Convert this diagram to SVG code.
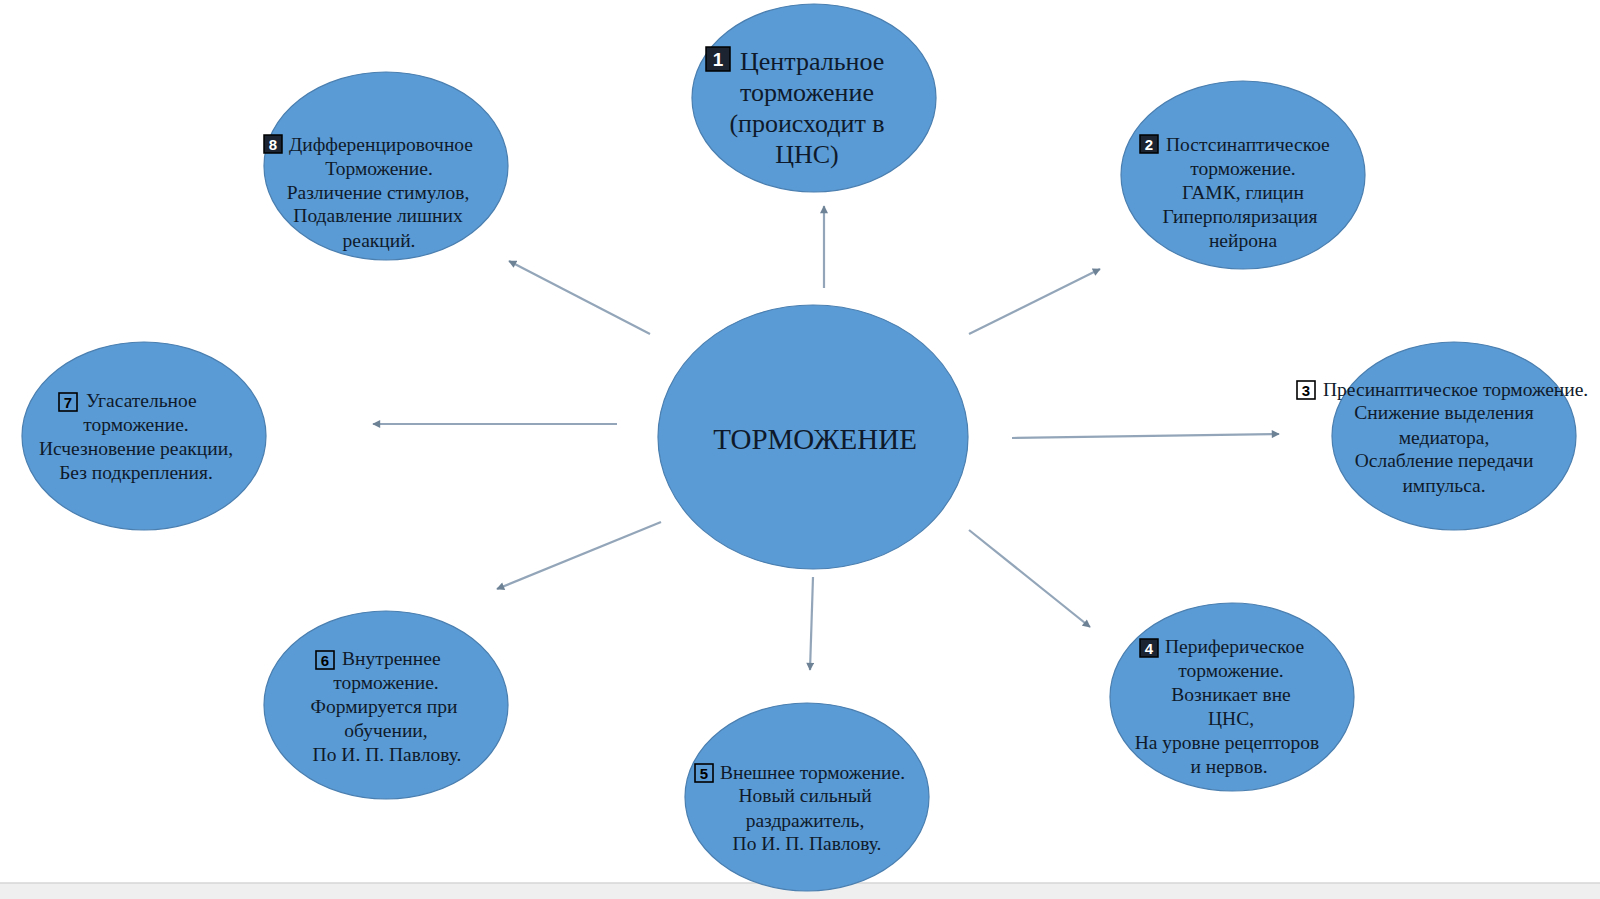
<svg xmlns="http://www.w3.org/2000/svg" width="1600" height="899" viewBox="0 0 1600 899">
<defs>
<marker id="ah" viewBox="0 0 10 10" refX="9" refY="5" markerWidth="9" markerHeight="8" orient="auto" markerUnits="userSpaceOnUse">
<path d="M0,0 L10,5 L0,10 z" fill="#6e8296"/>
</marker>
<style>
.node{fill:#5b9bd5;stroke:#4a7fb0;stroke-width:1.2}
.t{font-family:"Liberation Serif","DejaVu Serif",serif;font-size:19.5px;fill:#0e1a2b}
.m{text-anchor:middle}
.big{font-size:26px}
.center{font-size:29px}
.conn line{stroke:#93a6b9;stroke-width:2.2;marker-end:url(#ah)}
.bd{fill:#1b2430;stroke:#000;stroke-width:1.5}
.bl{fill:none;stroke:#000;stroke-width:1.6}
.bw{fill:#fff;stroke:#000;stroke-width:1.6}
.dw{font-family:"Liberation Sans","DejaVu Sans",sans-serif;font-size:15px;font-weight:bold;text-anchor:middle;fill:#fff}
.dk{font-family:"Liberation Sans","DejaVu Sans",sans-serif;font-size:15px;font-weight:bold;text-anchor:middle;fill:#000}
</style>
</defs>
<rect x="0" y="0" width="1600" height="899" fill="#ffffff"/>
<rect x="0" y="883" width="1600" height="16" fill="#efefef"/>
<line x1="0" y1="883" x2="1600" y2="883" stroke="#d6d6d6" stroke-width="1.5"/>

<g id="connectors" class="conn">
<line x1="824" y1="288" x2="824" y2="206"/>
<line x1="650" y1="334" x2="509" y2="261"/>
<line x1="969" y1="334" x2="1100" y2="269"/>
<line x1="617" y1="424" x2="373" y2="424"/>
<line x1="1012" y1="438" x2="1279" y2="434"/>
<line x1="661" y1="522" x2="497" y2="589"/>
<line x1="813" y1="577" x2="810" y2="670"/>
<line x1="969" y1="530" x2="1090" y2="627"/>
</g>

<g id="node-center">
<ellipse class="node" cx="813" cy="437" rx="155" ry="132"/>
<text class="t m center" x="815" y="449">ТОРМОЖЕНИЕ</text>
</g>

<g id="node-1">
<ellipse class="node" cx="814" cy="98" rx="122" ry="94"/>
<rect class="bd" x="706" y="47" width="24" height="24"/>
<text class="dw" x="718" y="66" style="font-size:19px">1</text>
<text class="t big" x="740" y="70">Центральное</text>
<text class="t m big" x="807" y="101">торможение</text>
<text class="t m big" x="807" y="132">(происходит в</text>
<text class="t m big" x="807" y="163">ЦНС)</text>
</g>

<g id="node-2">
<ellipse class="node" cx="1243" cy="175" rx="122" ry="94"/>
<rect class="bd" x="1140" y="135" width="18" height="18"/>
<text class="dw" x="1149" y="150">2</text>
<text class="t" x="1166" y="151">Постсинаптическое</text>
<text class="t m" x="1243" y="175">торможение.</text>
<text class="t m" x="1243" y="199">ГАМК, глицин</text>
<text class="t m" x="1240" y="223">Гиперполяризация</text>
<text class="t m" x="1243" y="247">нейрона</text>
</g>

<g id="node-3">
<ellipse class="node" cx="1454" cy="436" rx="122" ry="94"/>
<rect class="bw" x="1297" y="381" width="18" height="18"/>
<text class="dk" x="1306" y="396">3</text>
<text class="t" x="1323" y="396">Пресинаптическое торможение.</text>
<text class="t m" x="1444" y="419">Снижение выделения</text>
<text class="t m" x="1444" y="444">медиатора,</text>
<text class="t m" x="1444" y="467">Ослабление передачи</text>
<text class="t m" x="1444" y="492">импульса.</text>
</g>

<g id="node-4">
<ellipse class="node" cx="1232" cy="697" rx="122" ry="94"/>
<rect class="bd" x="1140" y="639" width="18" height="18"/>
<text class="dw" x="1149" y="654">4</text>
<text class="t" x="1165" y="653">Периферическое</text>
<text class="t m" x="1231" y="677">торможение.</text>
<text class="t m" x="1231" y="701">Возникает вне</text>
<text class="t m" x="1231" y="725">ЦНС,</text>
<text class="t m" x="1227" y="749">На уровне рецепторов</text>
<text class="t m" x="1229" y="773">и нервов.</text>
</g>

<g id="node-5">
<ellipse class="node" cx="807" cy="797" rx="122" ry="94"/>
<rect class="bl" x="695" y="764" width="18" height="18"/>
<text class="dk" x="704" y="779">5</text>
<text class="t" x="720" y="779">Внешнее торможение.</text>
<text class="t m" x="805" y="802">Новый сильный</text>
<text class="t m" x="805" y="827">раздражитель,</text>
<text class="t m" x="807" y="850">По И. П. Павлову.</text>
</g>

<g id="node-6">
<ellipse class="node" cx="386" cy="705" rx="122" ry="94"/>
<rect class="bl" x="316" y="651" width="18" height="18"/>
<text class="dk" x="325" y="666">6</text>
<text class="t" x="342" y="665">Внутреннее</text>
<text class="t m" x="386" y="689">торможение.</text>
<text class="t m" x="384" y="713">Формируется при</text>
<text class="t m" x="386" y="737">обучении,</text>
<text class="t m" x="387" y="761">По И. П. Павлову.</text>
</g>

<g id="node-7">
<ellipse class="node" cx="144" cy="436" rx="122" ry="94"/>
<rect class="bl" x="59" y="393" width="18" height="18"/>
<text class="dk" x="68" y="408">7</text>
<text class="t" x="86" y="407">Угасательное</text>
<text class="t m" x="136" y="431">торможение.</text>
<text class="t m" x="136" y="455">Исчезновение реакции,</text>
<text class="t m" x="136" y="479">Без подкрепления.</text>
</g>

<g id="node-8">
<ellipse class="node" cx="386" cy="166" rx="122" ry="94"/>
<rect class="bd" x="264" y="135" width="18" height="18"/>
<text class="dw" x="273" y="150">8</text>
<text class="t" x="289" y="151">Дифференцировочное</text>
<text class="t m" x="379" y="175">Торможение.</text>
<text class="t m" x="378" y="199">Различение стимулов,</text>
<text class="t m" x="378" y="222">Подавление лишних</text>
<text class="t m" x="379" y="247">реакций.</text>
</g>
</svg>
